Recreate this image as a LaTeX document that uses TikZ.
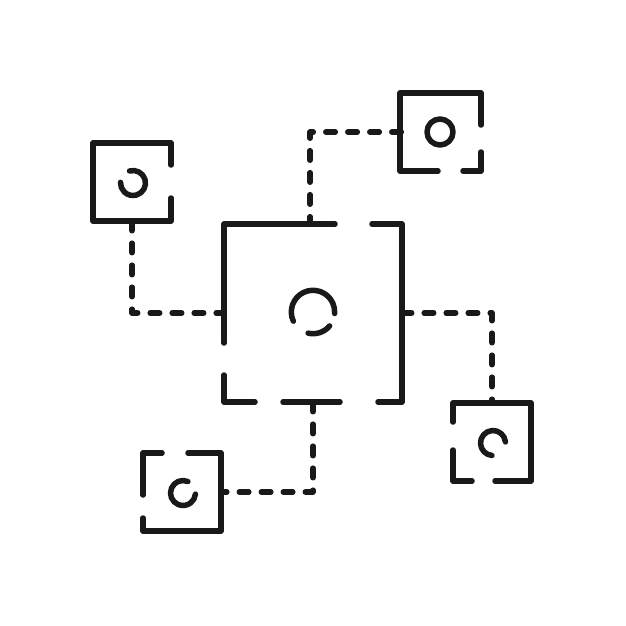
\documentclass[tikz,border=0pt]{standalone}
\begin{document}
\begin{tikzpicture}[x=1pt,y=-1pt,
    stroke/.style={line width=5.5pt,line cap=round,line join=round,draw=black!90},
    link/.style={stroke,dash pattern=on 9.5pt off 12.5pt},
    hubbox/.style={inner sep=0pt,minimum size=178pt},
    leafbox/.style={inner sep=0pt,minimum size=78pt}]
    \useasboundingbox[fill=white] (0,0) rectangle (626,626);
    \pgfmathsetmacro{\leafr}{12.5};
    \node[hubbox] (hub) at (313,313) {};
    \node[leafbox] (tl) at (132,182) {};
    \node[leafbox] (tr) at (440.5,132) {};
    \node[leafbox] (br) at (492,442) {};
    \node[leafbox] (bl) at (182,492) {};
    \draw[stroke] (335,224) -- (224,224) -- (224,343);
    \draw[stroke] (224,375) -- (224,402) -- (255,402);
    \draw[stroke] (283,402) -- (340,402);
    \draw[stroke] (372,224) -- (402,224) -- (402,402) -- (378,402);
    \draw[stroke] (313,312) ++(205:21.7pt) arc[start angle=205,end angle=-4,radius=21.7pt];
    \draw[stroke] (313,312) ++(-40:21.7pt) arc[start angle=-40,end angle=-103,radius=21.7pt];
    \draw[stroke] (171,165) -- (171,143) -- (93,143) -- (93,221) -- (171,221) -- (171,198);
    \draw[stroke] (133,183) ++(106:\leafr pt) arc[start angle=106,end angle=-183,radius=\leafr pt];
    \draw[stroke] (481,125) -- (481,93) -- (400,93) -- (400,171) -- (438,171);
    \draw[stroke] (463,171) -- (481,171) -- (481,152);
    \draw[stroke] (440,132) circle[radius=13pt];
    \draw[stroke] (453,422) -- (453,403) -- (531,403) -- (531,481) -- (495,481);
    \draw[stroke] (472,481) -- (453,481) -- (453,450);
    \draw[stroke] (493,443) ++(5:\leafr pt) arc[start angle=5,end angle=265,radius=\leafr pt];
    \draw[stroke] (188,453) -- (221,453) -- (221,531) -- (143,531) -- (143,518);
    \draw[stroke] (143,495) -- (143,453) -- (162,453);
    \draw[stroke] (183,493) ++(67:\leafr pt) arc[start angle=67,end angle=355,radius=\leafr pt];
    \draw[link] (tl.south) |- (hub.west);
    \draw[link] (tr.west) -| ([xshift=-3pt]hub.north);
    \draw[link] (hub.east) -| (br.north);
    \draw[link] (hub.south) |- (bl.east);
\end{tikzpicture}
\end{document}
